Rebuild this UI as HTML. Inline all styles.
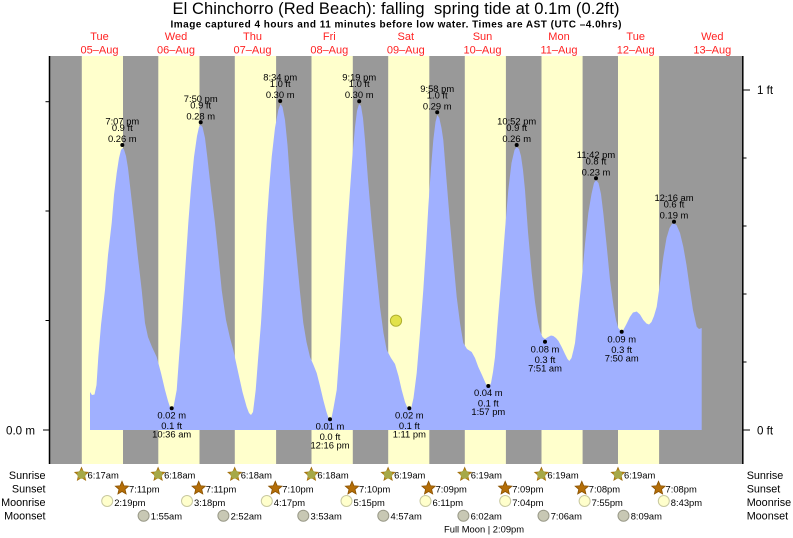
<!DOCTYPE html>
<html><head><meta charset="utf-8">
<style>
html,body{margin:0;padding:0;background:#fff;}
body{width:793px;height:538px;overflow:hidden;}
svg{display:block;font-family:"Liberation Sans",Arial,sans-serif;}
.t{font-size:9.4px;fill:#000;text-anchor:middle;}
.e{font-size:9.4px;fill:#000;}
.r{font-size:10.8px;fill:#000;}
.d{font-size:11px;fill:#f22;text-anchor:middle;}
</style></head><body>
<svg width="793" height="538" viewBox="0 0 793 538" xmlns="http://www.w3.org/2000/svg">
<defs>
<g id="sr"><path d="M0,-7 L1.881,-2.589 L6.657,-2.163 L3.043,0.989 L4.114,5.663 L0,3.2 L-4.114,5.663 L-3.043,0.989 L-6.657,-2.163 L-1.881,-2.589 Z" fill="#c09018" stroke="#a07010" stroke-width="0.8"/><circle r="4.3" fill="#a6a848"/></g>
<g id="ss"><path d="M0,-7 L1.881,-2.589 L6.657,-2.163 L3.043,0.989 L4.114,5.663 L0,3.2 L-4.114,5.663 L-3.043,0.989 L-6.657,-2.163 L-1.881,-2.589 Z" fill="#b46e08" stroke="#8a5200" stroke-width="0.8"/></g>
<circle id="mr" r="5.5" fill="#ffffcc" stroke="#c8c8a0" stroke-width="1"/>
<circle id="ms" r="5.5" fill="#c8c8b4" stroke="#999988" stroke-width="1"/>
</defs>

<!-- title -->
<text x="396" y="14" text-anchor="middle" font-size="16.5" textLength="447" style="white-space:pre">El Chinchorro (Red Beach): falling  spring tide at 0.1m (0.2ft)</text>
<text x="396" y="27.5" text-anchor="middle" font-size="10" font-weight="bold" textLength="451">Image captured 4 hours and 11 minutes before low water. Times are AST (UTC –4.0hrs)</text>

<!-- day labels -->
<g>
<text class="d" x="99.5" y="40">Tue</text><text class="d" x="99.5" y="53.5">05–Aug</text>
<text class="d" x="176" y="40">Wed</text><text class="d" x="176" y="53.5">06–Aug</text>
<text class="d" x="252.5" y="40">Thu</text><text class="d" x="252.5" y="53.5">07–Aug</text>
<text class="d" x="329.3" y="40">Fri</text><text class="d" x="329.3" y="53.5">08–Aug</text>
<text class="d" x="405.8" y="40">Sat</text><text class="d" x="405.8" y="53.5">09–Aug</text>
<text class="d" x="482.5" y="40">Sun</text><text class="d" x="482.5" y="53.5">10–Aug</text>
<text class="d" x="559" y="40">Mon</text><text class="d" x="559" y="53.5">11–Aug</text>
<text class="d" x="635.7" y="40">Tue</text><text class="d" x="635.7" y="53.5">12–Aug</text>
<text class="d" x="712.3" y="40">Wed</text><text class="d" x="712.3" y="53.5">13–Aug</text>
</g>

<!-- bands -->
<rect x="49" y="56" width="694" height="408" fill="#999999"/>
<g fill="#ffffcc">
<rect x="81.8" y="56" width="41.2" height="408"/>
<rect x="158.3" y="56" width="41.2" height="408"/>
<rect x="234.8" y="56" width="41.3" height="408"/>
<rect x="311.5" y="56" width="41.3" height="408"/>
<rect x="388.2" y="56" width="41.1" height="408"/>
<rect x="464.8" y="56" width="41.1" height="408"/>
<rect x="541.5" y="56" width="41.1" height="408"/>
<rect x="618" y="56" width="41.1" height="408"/>
</g>

<!-- tide -->
<path fill="#a0b0ff" d="M90,430 L90,392 L92,395 L94.5,394.5 L96.5,385 L98.3,357 L101,325 L105,290 L108,255 L111.7,223 L114,195 L116.7,173 L119,158 L121,150 L122.5,148 L124,149.5 L126,156 L128,168 L130.5,190 L134.3,223 L138,258 L141.7,290 L145,323 L148,337 L152,347 L156.7,357 L161,373 L165,390 L168,401 L170,407 L171.8,410 L173.5,407 L176.7,390 L179,358 L181.7,323 L185,273 L188.3,223 L191,188 L194,157 L197,136 L199,127 L200.7,125 L202.5,127 L205,138 L207.3,157 L211,190 L215,223 L218.5,257 L221.7,290 L226,320 L230,338 L233.3,350 L238.3,373 L242.5,392 L246.7,407 L249,413 L251,415 L253,412 L255.7,390 L258,360 L261,323 L264,273 L266.7,223 L269,190 L271.7,157 L275,128 L278.3,110 L280.5,104 L282.5,107 L285,120 L287.5,145 L290,180 L293,218 L296.7,257 L300,292 L303.3,323 L306.5,342 L310,357 L313.5,365 L316.7,373 L320,386 L323.3,400 L326.5,412 L328.5,418 L330,420.5 L331.5,418 L333.5,408 L336.7,390 L340,345 L343.3,290 L346.5,240 L350,190 L352.5,155 L355,127 L357,111 L359,104 L361,106 L363,118 L365,140 L368,180 L371.7,223 L376,266 L380,307 L383.5,333 L386.7,350 L391,358 L395,364 L398.5,376 L401.7,390 L405,402 L407.5,408 L409.3,410 L411,409 L413.5,398 L416.7,373 L420,333 L423.3,290 L426,248 L428.3,207 L431,168 L433.3,140 L435.5,122 L437.3,115 L439.3,118 L441.5,128 L443.3,140 L446.5,180 L450,223 L453.5,262 L456.7,297 L460,323 L463.3,343 L467,349 L471.7,352 L475,358 L478.3,367 L482,375 L485.5,383 L488.3,388 L491,383 L493,372 L495,357 L498,318 L501.7,273 L505,230 L508.3,190 L511.5,163 L514.5,150 L516.7,147 L519,149 L521,156 L523,170 L525,190 L528,232 L531.7,273 L535,302 L538,322 L540,331 L542.5,337 L545,339 L548,337 L551,335.5 L553.3,336 L556,338 L558.5,341 L561.7,347 L565,354 L567.5,359 L569.3,361 L571.5,358 L573.5,350 L575,343 L578,315 L581.7,280 L585,244 L588.3,213 L591.5,194 L594,183 L596,180 L598.5,183 L601,194 L603.3,213 L606.5,244 L610,280 L613.5,306 L616,320 L618.3,328 L621,331 L623.3,330 L626.5,324 L630,316.7 L633,312.5 L636.7,311.5 L640,314.5 L643.3,320 L646.5,323.5 L649,324.5 L651.5,322 L654,316 L656.7,306.7 L660,283 L663.3,257 L666.5,238 L669.5,228 L672,224 L674,223.5 L676.5,225 L680,233 L683.3,246.7 L686.5,265 L690,290 L693,310 L696.7,326.7 L699,329 L701.7,328 L701.7,430 Z"/>

<!-- moon in chart -->
<circle cx="396" cy="320.7" r="5.6" fill="#e2e24a" stroke="#b0b030" stroke-width="1"/>

<!-- axes -->
<g stroke="#000">
<line x1="49.5" y1="56" x2="49.5" y2="464" stroke-width="1.5"/>
<line x1="742.8" y1="56" x2="742.8" y2="464" stroke-width="1.5"/>
<line x1="43" y1="430" x2="49.5" y2="430" stroke-width="1"/>
<line x1="45.5" y1="320.5" x2="49.5" y2="320.5" stroke-width="1"/>
<line x1="45.5" y1="211" x2="49.5" y2="211" stroke-width="1"/>
<line x1="45.5" y1="101.7" x2="49.5" y2="101.7" stroke-width="1"/>
<line x1="742.8" y1="430" x2="750" y2="430" stroke-width="1"/>
<line x1="742.8" y1="90" x2="750" y2="90" stroke-width="1"/>
<line x1="742.8" y1="362" x2="746.5" y2="362" stroke-width="1"/>
<line x1="742.8" y1="294" x2="746.5" y2="294" stroke-width="1"/>
<line x1="742.8" y1="226" x2="746.5" y2="226" stroke-width="1"/>
<line x1="742.8" y1="158" x2="746.5" y2="158" stroke-width="1"/>
</g>
<text x="35" y="434.5" font-size="11.6" text-anchor="end">0.0 m</text>
<text x="757" y="94" font-size="11.6">1 ft</text>
<text x="757" y="434.5" font-size="11.6">0 ft</text>

<!-- tide dots -->
<g fill="#000">
<circle cx="122.3" cy="145" r="2"/><circle cx="200.7" cy="122.3" r="2"/><circle cx="280.2" cy="101" r="2"/><circle cx="359.2" cy="101.2" r="2"/><circle cx="437.2" cy="112.3" r="2"/><circle cx="516.7" cy="145" r="2"/><circle cx="596" cy="178.3" r="2"/><circle cx="674" cy="221.7" r="2"/>
<circle cx="171.7" cy="408.3" r="2"/><circle cx="330" cy="419.3" r="2"/><circle cx="409.3" cy="408.3" r="2"/><circle cx="488.3" cy="386" r="2"/><circle cx="545" cy="341.7" r="2"/><circle cx="621.7" cy="331.7" r="2"/>
</g>
<g class="t">
<text class="t" x="122.3" y="124.5">7:07 pm</text><text class="t" x="122.3" y="131">0.9 ft</text><text class="t" x="122.3" y="142">0.26 m</text>
<text class="t" x="200.7" y="101.8">7:50 pm</text><text class="t" x="200.7" y="108.3">0.9 ft</text><text class="t" x="200.7" y="119.3">0.28 m</text>
<text class="t" x="280.2" y="80.5">8:34 pm</text><text class="t" x="280.2" y="87">1.0 ft</text><text class="t" x="280.2" y="98">0.30 m</text>
<text class="t" x="359.2" y="80.7">9:19 pm</text><text class="t" x="359.2" y="87.2">1.0 ft</text><text class="t" x="359.2" y="98.2">0.30 m</text>
<text class="t" x="437.2" y="91.8">9:58 pm</text><text class="t" x="437.2" y="98.3">1.0 ft</text><text class="t" x="437.2" y="109.3">0.29 m</text>
<text class="t" x="516.7" y="124.5">10:52 pm</text><text class="t" x="516.7" y="131">0.9 ft</text><text class="t" x="516.7" y="142">0.26 m</text>
<text class="t" x="596" y="157.8">11:42 pm</text><text class="t" x="596" y="164.3">0.8 ft</text><text class="t" x="596" y="175.3">0.23 m</text>
<text class="t" x="674" y="201.2">12:16 am</text><text class="t" x="674" y="207.7">0.6 ft</text><text class="t" x="674" y="218.7">0.19 m</text>
<text class="t" x="171.7" y="418.5">0.02 m</text><text class="t" x="171.7" y="429">0.1 ft</text><text class="t" x="171.7" y="437.5">10:36 am</text>
<text class="t" x="330" y="429.5">0.01 m</text><text class="t" x="330" y="440">0.0 ft</text><text class="t" x="330" y="448.5">12:16 pm</text>
<text class="t" x="409.3" y="418.5">0.02 m</text><text class="t" x="409.3" y="429">0.1 ft</text><text class="t" x="409.3" y="437.5">1:11 pm</text>
<text class="t" x="488.3" y="396.2">0.04 m</text><text class="t" x="488.3" y="406.7">0.1 ft</text><text class="t" x="488.3" y="415.2">1:57 pm</text>
<text class="t" x="545" y="352.3">0.08 m</text><text class="t" x="545" y="362.8">0.3 ft</text><text class="t" x="545" y="371.3">7:51 am</text>
<text class="t" x="621.7" y="342.3">0.09 m</text><text class="t" x="621.7" y="352.8">0.3 ft</text><text class="t" x="621.7" y="361.3">7:50 am</text>
</g>

<!-- row labels -->
<g class="r">
<text class="r" x="45.5" y="479" text-anchor="end">Sunrise</text>
<text class="r" x="45.5" y="492.7" text-anchor="end">Sunset</text>
<text class="r" x="45.5" y="506" text-anchor="end">Moonrise</text>
<text class="r" x="45.5" y="519.5" text-anchor="end">Moonset</text>
<text class="r" x="746.7" y="479">Sunrise</text>
<text class="r" x="746.7" y="492.7">Sunset</text>
<text class="r" x="746.7" y="506">Moonrise</text>
<text class="r" x="746.7" y="519.5">Moonset</text>
</g>

<!-- sunrise -->
<use href="#sr" x="81.5" y="474.5"/><text class="e" x="87.5" y="478.5">6:17am</text>
<use href="#sr" x="158.1" y="474.5"/><text class="e" x="164.1" y="478.5">6:18am</text>
<use href="#sr" x="234.7" y="474.5"/><text class="e" x="240.7" y="478.5">6:18am</text>
<use href="#sr" x="311.4" y="474.5"/><text class="e" x="317.4" y="478.5">6:18am</text>
<use href="#sr" x="388.1" y="474.5"/><text class="e" x="394.1" y="478.5">6:19am</text>
<use href="#sr" x="464.7" y="474.5"/><text class="e" x="470.7" y="478.5">6:19am</text>
<use href="#sr" x="541.4" y="474.5"/><text class="e" x="547.4" y="478.5">6:19am</text>
<use href="#sr" x="618" y="474.5"/><text class="e" x="624" y="478.5">6:19am</text>
<!-- sunset -->
<use href="#ss" x="122" y="488.3"/><text class="e" x="129" y="492.5">7:11pm</text>
<use href="#ss" x="198.7" y="488.3"/><text class="e" x="205.7" y="492.5">7:11pm</text>
<use href="#ss" x="275.3" y="488.3"/><text class="e" x="282.3" y="492.5">7:10pm</text>
<use href="#ss" x="352" y="488.3"/><text class="e" x="359" y="492.5">7:10pm</text>
<use href="#ss" x="428.6" y="488.3"/><text class="e" x="435.6" y="492.5">7:09pm</text>
<use href="#ss" x="505.2" y="488.3"/><text class="e" x="512.2" y="492.5">7:09pm</text>
<use href="#ss" x="581.8" y="488.3"/><text class="e" x="588.8" y="492.5">7:08pm</text>
<use href="#ss" x="658.5" y="488.3"/><text class="e" x="665.5" y="492.5">7:08pm</text>
<!-- moonrise -->
<use href="#mr" x="107.2" y="501"/><text class="e" x="114.2" y="506">2:19pm</text>
<use href="#mr" x="187" y="501"/><text class="e" x="194" y="506">3:18pm</text>
<use href="#mr" x="266.8" y="501"/><text class="e" x="273.8" y="506">4:17pm</text>
<use href="#mr" x="346.5" y="501"/><text class="e" x="353.5" y="506">5:15pm</text>
<use href="#mr" x="425.5" y="501"/><text class="e" x="432.5" y="506">6:11pm</text>
<use href="#mr" x="505.2" y="501"/><text class="e" x="512.2" y="506">7:04pm</text>
<use href="#mr" x="584.6" y="501"/><text class="e" x="591.6" y="506">7:55pm</text>
<use href="#mr" x="663.8" y="501"/><text class="e" x="670.8" y="506">8:43pm</text>
<!-- moonset -->
<use href="#ms" x="143.6" y="515.7"/><text class="e" x="150.8" y="519.5">1:55am</text>
<use href="#ms" x="223.4" y="515.7"/><text class="e" x="230.6" y="519.5">2:52am</text>
<use href="#ms" x="303.3" y="515.7"/><text class="e" x="310.5" y="519.5">3:53am</text>
<use href="#ms" x="383.3" y="515.7"/><text class="e" x="390.5" y="519.5">4:57am</text>
<use href="#ms" x="463.4" y="515.7"/><text class="e" x="470.6" y="519.5">6:02am</text>
<use href="#ms" x="543.5" y="515.7"/><text class="e" x="550.7" y="519.5">7:06am</text>
<use href="#ms" x="623.5" y="515.7"/><text class="e" x="630.7" y="519.5">8:09am</text>

<text class="e" x="444" y="532.5">Full Moon | 2:09pm</text>
</svg>
</body></html>
